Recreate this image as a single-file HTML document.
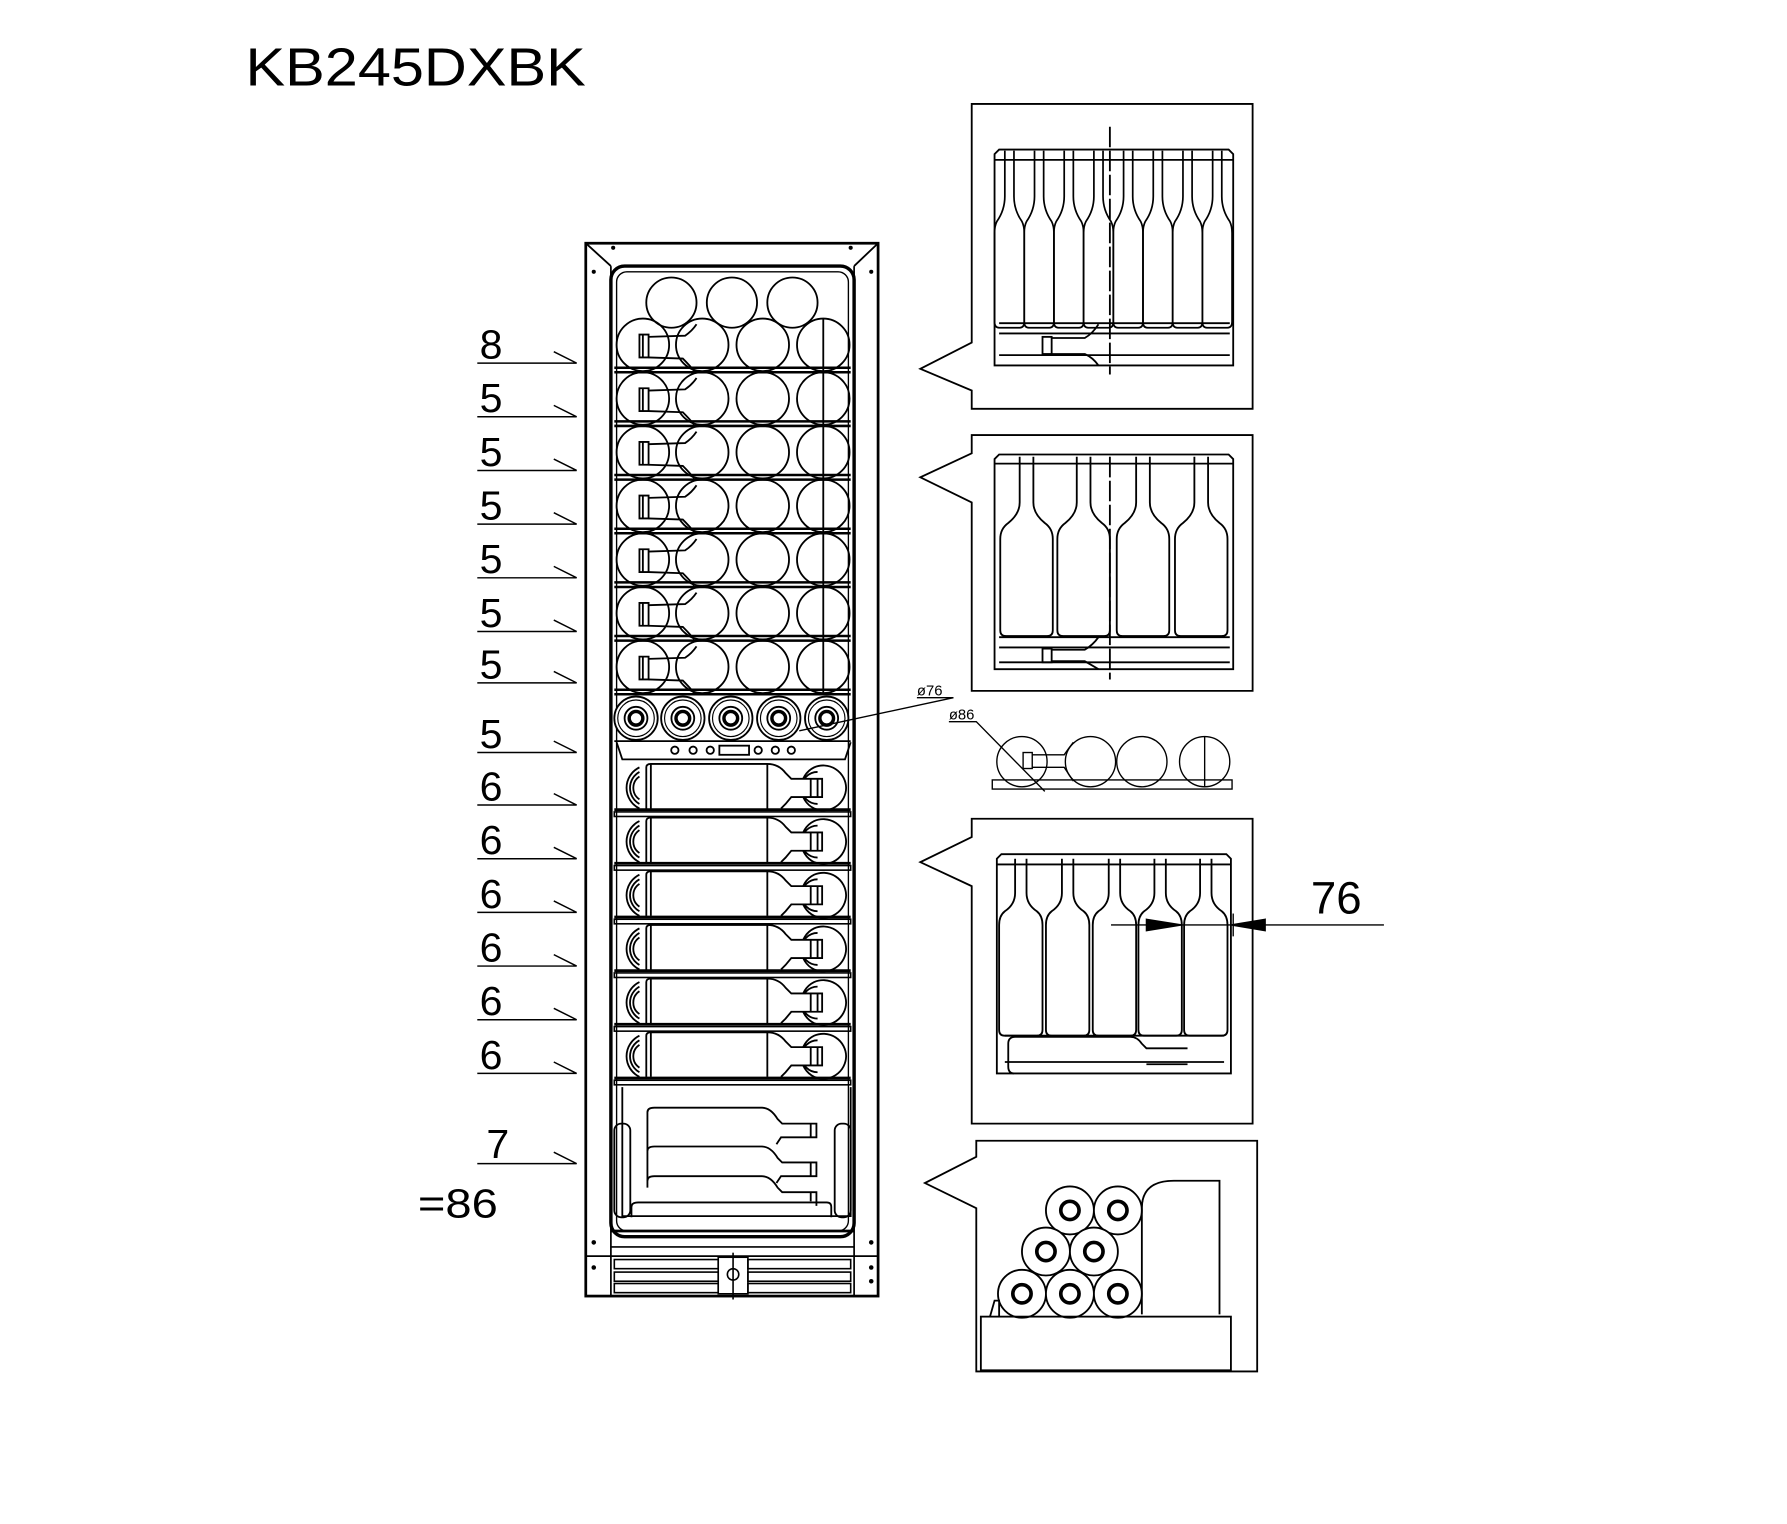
<!DOCTYPE html>
<html><head><meta charset="utf-8"><style>
html,body{margin:0;padding:0;background:#fff;}
svg{display:block}
text{font-family:"Liberation Sans",sans-serif;fill:#000}
</style></head><body>
<svg width="1787" height="1524" viewBox="0 0 1565 1334.6" preserveAspectRatio="none" xmlns="http://www.w3.org/2000/svg">
<defs>
<g id="row4" fill="none" stroke="#000" stroke-width="1.6">
<circle cx="563" cy="0" r="23"/><circle cx="615" cy="0" r="23"/><circle cx="668" cy="0" r="23"/><circle cx="721" cy="0" r="23"/>
<line x1="721" y1="-23" x2="721" y2="23"/>
<path d="M560,-9 h8 v20 h-8 z M563,-9 v20" fill="#fff"/>
<path d="M568,-7 L600,-8 Q606,-12 610,-18 M568,11 L598,12 Q604,18 608,23"/>
<line x1="538" y1="20" x2="745" y2="20" stroke-width="2.2"/>
<line x1="538" y1="24" x2="745" y2="24" stroke-width="2.2"/>
</g>
<g id="row6" fill="none" stroke="#000" stroke-width="1.6">
<path d="M560,4 a20,20 0 0 0 0,36 M560,8 a16,16 0 0 0 0,28 M560,12 a12,12 0 0 0 0,20" />
<path d="M713,40 a20,20 0 0 1 0,-36 a20,20 0 0 1 28,18 a20,20 0 0 1 -28,18 M716,36 a14,14 0 0 1 0,-28"/>
<path d="M566,40 V4 q0,-3 4,-3 H672 q10,0 16,8 l5,5 H720 V30 H693 l-5,6 -4,4" fill="#fff"/>
<line x1="570" y1="1" x2="570" y2="40"/>
<line x1="672" y1="1" x2="672" y2="40"/>
<path d="M710,14 v16 M716,14 v16"/>
<line x1="538" y1="41" x2="745" y2="41" stroke-width="2.4"/>
<rect x="538" y="43" width="207" height="4" stroke-width="1.4"/>
</g>
<path id="bn" d="M-4,0 V40 Q-4,52 -11,62 Q-13,66 -13,72 V150 Q-13,155 -9,155 H9 Q13,155 13,150 V72 Q13,66 11,62 Q4,52 4,40 V0" fill="none" stroke="#000" stroke-width="1.5"/>
<path id="bw" d="M-6,0 V40 Q-6,50 -16,58 Q-23,63 -23,72 V152 Q-23,157 -18,157 H18 Q23,157 23,152 V72 Q23,63 16,58 Q6,50 6,40 V0" fill="none" stroke="#000" stroke-width="1.6"/>
<path id="bm" d="M-5,0 V30 Q-5,40 -14,46 Q-19,50 -19,58 V150 Q-19,155 -14,155 H14 Q19,155 19,150 V58 Q19,50 14,46 Q5,40 5,30 V0" fill="none" stroke="#000" stroke-width="1.6"/>
<g id="roll"><circle r="21" fill="#fff" stroke="#000" stroke-width="1.6"/><circle r="8" fill="none" stroke="#000" stroke-width="3.2"/></g>
<g id="roll5"><circle r="19" fill="#fff" stroke="#000" stroke-width="1.6"/><circle r="16" fill="none" stroke="#000" stroke-width="1"/><circle r="10" fill="none" stroke="#000" stroke-width="1.6"/><circle r="6" fill="none" stroke="#000" stroke-width="3"/></g>
</defs>

<text x="215" y="75" font-size="47" textLength="298" lengthAdjust="spacingAndGlyphs">KB245DXBK</text>

<g fill="none" stroke="#000">
<rect x="513" y="213" width="256" height="922" stroke-width="2.4"/>
<line x1="513" y1="1100" x2="769" y2="1100" stroke-width="1.5"/>
<rect x="535" y="233" width="213" height="850" rx="12" stroke-width="3"/>
<rect x="540" y="238" width="203" height="840" rx="9" stroke-width="1.2"/>
<line x1="513" y1="213" x2="535" y2="233" stroke-width="1.6"/>
<line x1="769" y1="213" x2="748" y2="233" stroke-width="1.6"/>
<line x1="535" y1="233" x2="535" y2="1135" stroke-width="1.5"/>
<line x1="748" y1="233" x2="748" y2="1135" stroke-width="1.5"/>
</g>
<g fill="#000">
<circle cx="537" cy="217" r="1.8"/><circle cx="745" cy="217" r="1.8"/><circle cx="520" cy="238" r="1.8"/><circle cx="763" cy="238" r="1.8"/>
<circle cx="763" cy="1088" r="2"/><circle cx="763" cy="1110" r="2"/><circle cx="763" cy="1122" r="2"/><circle cx="520" cy="1088" r="2"/><circle cx="520" cy="1110" r="2"/>
</g>
<g fill="none" stroke="#000" stroke-width="1.6">
<circle cx="588" cy="265" r="22"/><circle cx="641" cy="265" r="22"/><circle cx="694" cy="265" r="22"/>
</g>
<use href="#row4" y="302"/><use href="#row4" y="349"/><use href="#row4" y="396"/><use href="#row4" y="443"/>
<use href="#row4" y="490"/><use href="#row4" y="537"/><use href="#row4" y="584"/>
<use href="#roll5" x="557" y="629"/><use href="#roll5" x="598" y="629"/><use href="#roll5" x="640" y="629"/><use href="#roll5" x="682" y="629"/><use href="#roll5" x="724" y="629"/>
<g fill="none" stroke="#000" stroke-width="1.6">
<path d="M540,650 L545,665 H740 L745,650"/>
<line x1="538" y1="649" x2="745" y2="649"/>
<circle cx="591" cy="657" r="3.2"/><circle cx="607" cy="657" r="3.2"/><circle cx="622" cy="657" r="3.2"/>
<rect x="630" y="653" width="26" height="8"/>
<circle cx="664" cy="657" r="3.2"/><circle cx="679" cy="657" r="3.2"/><circle cx="693" cy="657" r="3.2"/>
</g>
<use href="#row6" y="668"/><use href="#row6" y="715"/><use href="#row6" y="762"/><use href="#row6" y="809"/><use href="#row6" y="856"/><use href="#row6" y="903"/>
<g fill="none" stroke="#000" stroke-width="1.6">
<path d="M545,952 V1065 H745 V952"/>
<rect x="538" y="984" width="14" height="82" rx="6"/>
<rect x="731" y="984" width="14" height="82" rx="6"/>
<path d="M567,1040 V974 q0,-4 6,-4 H667 q8,0 14,10 l4,4 H715 v12 H684 l-4,6"/>
<path d="M567,1008 q0,-4 6,-4 H667 q8,0 14,10 l4,4 H715 v12 H684 l-4,6"/>
<path d="M567,1034 q0,-4 6,-4 H667 q8,0 14,10 l4,4 H715 v12"/>
<path d="M710,984 v12 M710,1018 v12 M710,1044 v8"/>
<path d="M553,1066 V1057 q0,-4 6,-4 H724 q4,0 4,4 V1066"/>
<line x1="535" y1="1078" x2="748" y2="1078" stroke-width="2.4"/>
</g>
<g fill="none" stroke="#000" stroke-width="1.4">
<line x1="535" y1="1092" x2="748" y2="1092"/>
<rect x="538" y="1103" width="91" height="8"/><rect x="538" y="1114" width="91" height="8"/><rect x="538" y="1124" width="91" height="8"/>
<rect x="655" y="1103" width="90" height="8"/><rect x="655" y="1114" width="90" height="8"/><rect x="655" y="1124" width="90" height="8"/>
<rect x="629" y="1101" width="26" height="32"/>
<circle cx="642" cy="1116" r="5"/><line x1="642" y1="1097" x2="642" y2="1138"/>
</g>

<g stroke="#000" stroke-width="1.3" fill="none">
<path d="M418,318 H505 L485,308"/><path d="M418,365 H505 L485,355"/><path d="M418,412 H505 L485,402"/><path d="M418,459 H505 L485,449"/>
<path d="M418,506 H505 L485,496"/><path d="M418,553 H505 L485,543"/><path d="M418,598 H505 L485,588"/><path d="M418,659 H505 L485,649"/>
<path d="M418,705 H505 L485,695"/><path d="M418,752 H505 L485,742"/><path d="M418,799 H505 L485,789"/><path d="M418,846 H505 L485,836"/>
<path d="M418,893 H505 L485,883"/><path d="M418,940 H505 L485,930"/><path d="M418,1019 H505 L485,1009"/>
</g>
<g font-size="36">
<text x="420" y="314">8</text><text x="420" y="361">5</text><text x="420" y="408">5</text><text x="420" y="455">5</text>
<text x="420" y="502">5</text><text x="420" y="549">5</text><text x="420" y="594">5</text><text x="420" y="655">5</text>
<text x="420" y="701">6</text><text x="420" y="748">6</text><text x="420" y="795">6</text><text x="420" y="842">6</text>
<text x="420" y="889">6</text><text x="420" y="936">6</text><text x="426" y="1014">7</text><text x="366" y="1066" textLength="70" lengthAdjust="spacingAndGlyphs">=86</text>
</g>

<g fill="none" stroke="#000" stroke-width="1.6">
<path d="M851,300 V91 H1097 V358 H851 V342 L806,323 Z" fill="#fff"/>
<path d="M851,397 V381 H1097 V605 H851 V440 L806,418 Z" fill="#fff"/>
<path d="M851,733 V717 H1097 V984 H851 V776 L806,755 Z" fill="#fff"/>
<path d="M855,1013 V999 H1101 V1201 H855 V1058 L810,1036 Z" fill="#fff"/>
</g>

<g fill="none" stroke="#000" stroke-width="1.6">
<path d="M871,320 V135 l4,-4 H1076 l4,4 V320 Z"/>
<line x1="871" y1="140" x2="1080" y2="140"/>
<line x1="875" y1="283" x2="1077" y2="283"/>
<line x1="875" y1="292" x2="1077" y2="292"/>
<line x1="875" y1="311" x2="1077" y2="311"/>
<rect x="913" y="295" width="8" height="15"/>
<path d="M921,296 H950 Q957,292 962,284 M921,310 H950 Q957,313 962,320"/>
<line x1="972" y1="111" x2="972" y2="328" stroke-dasharray="18,3"/>
</g>
<use href="#bn" x="884" y="132"/><use href="#bn" x="910" y="132"/><use href="#bn" x="936" y="132"/><use href="#bn" x="962" y="132"/>
<use href="#bn" x="988" y="132"/><use href="#bn" x="1014" y="132"/><use href="#bn" x="1040" y="132"/><use href="#bn" x="1066" y="132"/>

<g fill="none" stroke="#000" stroke-width="1.6">
<path d="M871,586 V402 l4,-4 H1076 l4,4 V586 Z"/>
<line x1="871" y1="406" x2="1080" y2="406"/>
<line x1="875" y1="558" x2="1077" y2="558"/>
<line x1="875" y1="567" x2="1077" y2="567"/>
<line x1="875" y1="580" x2="1077" y2="580"/>
<rect x="913" y="568" width="8" height="12"/>
<path d="M921,569 H950 Q957,565 962,558 M921,579 H950 Q957,583 962,586"/>
<line x1="972" y1="400" x2="972" y2="595" stroke-dasharray="18,3"/>
</g>
<use href="#bw" x="899" y="400"/><use href="#bw" x="949" y="400"/><use href="#bw" x="1001" y="400"/><use href="#bw" x="1052" y="400"/>

<g fill="none" stroke="#000" stroke-width="1.2">
<path d="M803,611 H835 L700,640"/>
<path d="M831,632 H855 L915,693"/>
<rect x="869" y="683" width="210" height="8"/>
<circle cx="895" cy="667" r="22"/><circle cx="955" cy="667" r="22"/><circle cx="1000" cy="667" r="22"/><circle cx="1055" cy="667" r="22"/>
<line x1="1055" y1="645" x2="1055" y2="689"/>
<rect x="896" y="659" width="8" height="14" fill="#fff"/>
<path d="M904,661 H932 Q936,655 940,650 M904,672 H932 Q936,678 940,684"/>
</g>
<text x="803" y="609" font-size="13">ø76</text>
<text x="831" y="630" font-size="13">ø86</text>

<g fill="none" stroke="#000" stroke-width="1.6">
<path d="M873,940 V752 l4,-4 H1074 l4,4 V940 Z"/>
<line x1="873" y1="757" x2="1078" y2="757"/>
<line x1="880" y1="907" x2="1072" y2="907"/>
<line x1="880" y1="930" x2="1072" y2="930"/>
<path d="M888,940 q-5,0 -5,-6 V914 q0,-6 6,-6 H990 q6,0 10,6 l4,4 H1040 M1004,932 H1040"/>
</g>
<use href="#bm" x="894" y="752"/><use href="#bm" x="935" y="752"/><use href="#bm" x="976" y="752"/><use href="#bm" x="1016" y="752"/><use href="#bm" x="1056" y="752"/>
<g stroke="#000" stroke-width="1.2">
<line x1="973" y1="810" x2="1212" y2="810"/>
<line x1="1080" y1="800" x2="1080" y2="820"/>
<polygon points="1004,805 1035,810 1004,815" fill="#000"/>
<polygon points="1108,805 1078,810 1108,815" fill="#000"/>
</g>
<text x="1148" y="800" font-size="40">76</text>

<use href="#roll" x="937" y="1060"/><use href="#roll" x="979" y="1060"/>
<use href="#roll" x="916" y="1096"/><use href="#roll" x="958" y="1096"/>
<use href="#roll" x="895" y="1133"/><use href="#roll" x="937" y="1133"/><use href="#roll" x="979" y="1133"/>
<g fill="none" stroke="#000" stroke-width="1.6">
<path d="M1000,1151 V1058 q0,-24 28,-24 H1068 V1151"/>
<rect x="859" y="1153" width="219" height="47"/>
<path d="M867,1153 l4,-14 h4 v14"/>
</g>
</svg>
</body></html>
